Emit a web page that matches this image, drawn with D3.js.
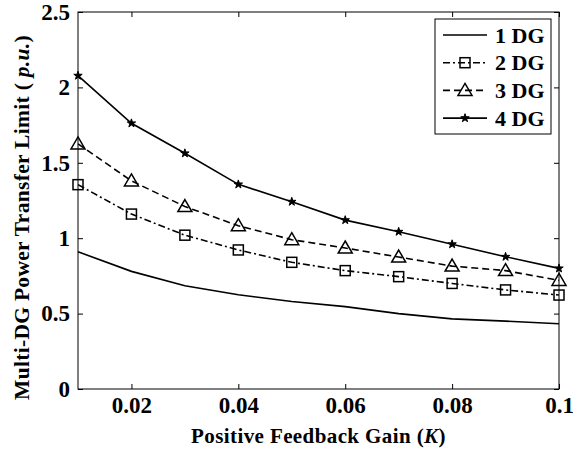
<!DOCTYPE html>
<html>
<head>
<meta charset="utf-8">
<script src="https://cdn.jsdelivr.net/npm/d3@7"></script>
<style>
body { margin:0; background:#fff; }
svg text { font-family: "Liberation Serif", "Times New Roman", serif; font-weight: bold; fill:#000; }
.axis path, .axis line { stroke:#000; stroke-width:1; }
</style>
</head>
<body>
<div id="graph"></div>
<script>
// gain values K
var K = [0.01, 0.02, 0.03, 0.04, 0.05, 0.06, 0.07, 0.08, 0.09, 0.1];
var dg1 = [0.91, 0.78, 0.685, 0.625, 0.58, 0.546, 0.50, 0.465, 0.45, 0.433];
var dg2 = [1.355, 1.16, 1.02, 0.922, 0.84, 0.785, 0.745, 0.70, 0.657, 0.623];
var dg3 = [1.625, 1.38, 1.21, 1.083, 0.99, 0.935, 0.875, 0.815, 0.785, 0.72];
var dg4 = [2.078, 1.762, 1.563, 1.357, 1.242, 1.12, 1.043, 0.96, 0.877, 0.80];
var names = ["1 DG", "2 DG", "3 DG", "4 DG"];
var xTicks = [0.02, 0.04, 0.06, 0.08, 0.1];
var yTicks = [0, 0.5, 1, 1.5, 2, 2.5];

var margin = {top: 12, right: 14, bottom: 61, left: 78};
var w = 573 - margin.left - margin.right;
var h = 450 - margin.top - margin.bottom;

var x = d3.scaleLinear().domain([0.01, 0.1]).range([0, w]);
var y = d3.scaleLinear().domain([0, 2.5]).range([h, 0]);

var svg = d3.select("#graph").append("svg")
	.attr("width", 573)
	.attr("height", 450)
	.append("g")
	.attr("transform", "translate(" + margin.left + "," + margin.top + ")");

// box
svg.append("rect").attr("width", w).attr("height", h)
	.attr("fill", "none").attr("stroke", "#000").attr("stroke-width", 1);

var xAxis = d3.axisBottom(x).tickValues(xTicks).tickSize(-5).tickPadding(8)
	.tickFormat(function(d) { return d == 0.1 ? "0.1" : d3.format(".2f")(d); });
var yAxis = d3.axisLeft(y).tickValues(yTicks).tickSize(-5).tickPadding(8)
	.tickFormat(function(d) { return d == 0 ? "0" : (d % 1 == 0 ? d : d3.format(".1f")(d)); });

svg.append("g").attr("class", "axis").attr("transform", "translate(0," + h + ")").call(xAxis)
	.selectAll("text").style("font-size", "23px");
svg.append("g").attr("class", "axis").call(yAxis)
	.selectAll("text").style("font-size", "23px");
// mirrored ticks on top and right
svg.append("g").attr("class", "axis").call(d3.axisTop(x).tickValues(xTicks).tickSize(-5).tickFormat(""));
svg.append("g").attr("class", "axis").attr("transform", "translate(" + w + ",0)")
	.call(d3.axisRight(y).tickValues(yTicks).tickSize(-5).tickFormat(""));
svg.selectAll(".axis .domain").remove();

// axis titles
svg.append("text")
	.attr("x", w / 2).attr("y", h + 54)
	.attr("text-anchor", "middle")
	.style("font-size", "21px")
	.style("letter-spacing", "0.4px")
	.html("Positive Feedback Gain (<tspan font-style='italic'>K</tspan>)");

svg.append("text")
	.attr("transform", "translate(" + (-49) + "," + (h / 2 + 17) + ") rotate(-90)")
	.attr("text-anchor", "middle")
	.style("font-size", "21.5px")
	.style("letter-spacing", "0.3px")
	.html("Multi-DG Power Transfer Limit ( <tspan font-style='italic'>p.u.</tspan>)");

var series = [
	{name: names[0], vals: dg1, dash: null, marker: null},
	{name: names[1], vals: dg2, dash: "7,3,2,3", marker: "square"},
	{name: names[2], vals: dg3, dash: "7,4", marker: "triangle"},
	{name: names[3], vals: dg4, dash: null, marker: "star"}
];

var line = d3.line()
	.x(function(d) { return x(d[0]); })
	.y(function(d) { return y(d[1]); });

function drawMarker(g, type, cx, cy) {
	if (type == "square") {
		g.append("rect").attr("x", cx - 5).attr("y", cy - 5).attr("width", 10).attr("height", 10)
			.attr("fill", "none").attr("stroke", "#000").attr("stroke-width", 1.5);
	} else if (type == "triangle") {
		g.append("path").attr("d", "M" + cx + "," + (cy - 7) + "L" + (cx + 7) + "," + (cy + 5) + "L" + (cx - 7) + "," + (cy + 5) + "Z")
			.attr("fill", "none").attr("stroke", "#000").attr("stroke-width", 1.5);
	} else if (type == "star") {
		g.append("path").attr("d", d3.symbol().type(d3.symbolStar).size(22)())
			.attr("transform", "translate(" + cx + "," + cy + ")")
			.attr("fill", "#000").attr("stroke", "#000").attr("stroke-width", 1);
	}
}

series.forEach(function(s) {
	var pts = K.map(function(k, i) { return [k, s.vals[i]]; });
	svg.append("path")
		.attr("d", line(pts))
		.attr("fill", "none").attr("stroke", "#000").attr("stroke-width", 1.6)
		.attr("stroke-dasharray", s.dash);
	if (s.marker) {
		var g = svg.append("g");
		pts.forEach(function(p) { drawMarker(g, s.marker, x(p[0]), y(p[1])); });
	}
});

// legend
var lg = svg.append("g").attr("transform", "translate(" + (435 - margin.left) + "," + (19 - margin.top) + ")");
lg.append("rect").attr("width", 116).attr("height", 115)
	.attr("fill", "#fff").attr("stroke", "#000").attr("stroke-width", 1);
series.forEach(function(s, i) {
	var yy = 16 + i * 27.7;
	lg.append("line").attr("x1", 8).attr("x2", 52).attr("y1", yy).attr("y2", yy)
		.attr("stroke", "#000").attr("stroke-width", 1.6).attr("stroke-dasharray", s.dash);
	if (s.marker) drawMarker(lg, s.marker, 30, yy);
	lg.append("text").attr("x", 60).attr("y", yy + 7.5).style("font-size", "22px").text(s.name);
});
</script>
</body>
</html>
